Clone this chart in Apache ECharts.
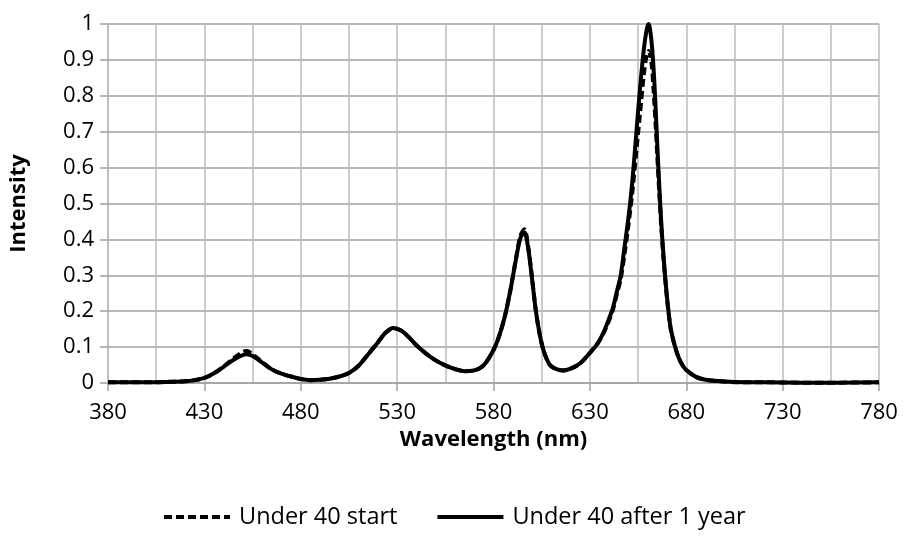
<!DOCTYPE html>
<html>
<head>
<meta charset="utf-8">
<script src="https://cdn.jsdelivr.net/npm/echarts@6/dist/echarts.min.js"></script>
<style>
  html, body { margin: 0; padding: 0; background: #fff; }
  #chart { width: 903px; height: 540px; }
</style>
</head>
<body>
<div id="chart"></div>
<script>
// wavelength (nm) sample points
const wavelengths = [380, 390, 400, 410, 420, 425, 430, 435, 440, 445,
  450, 452, 455, 460, 465, 470, 475, 480, 485, 490,
  495, 500, 505, 510, 515, 520, 524, 528, 532, 536,
  540, 545, 550, 555, 560, 565, 570, 575, 580, 583,
  586, 589, 592, 594, 596, 598, 600, 602, 604, 606,
  609, 612, 616, 620, 625, 630, 634, 637, 640, 642,
  644, 646, 648, 650, 652, 654, 656, 658, 659.5, 660.5,
  662, 663, 664, 665, 666, 667, 668, 669, 670, 671,
  672, 674, 676, 678, 680, 685, 690, 700, 710, 720,
  740, 760, 780];

// Under 40 start (dashed)
const startValues = [0.002, 0.002, 0.002, 0.003, 0.005, 0.008, 0.014, 0.027, 0.046, 0.068,
  0.087, 0.089, 0.080, 0.058, 0.038, 0.026, 0.018, 0.011, 0.008, 0.009,
  0.012, 0.018, 0.028, 0.048, 0.080, 0.113, 0.140, 0.153, 0.146, 0.128,
  0.105, 0.082, 0.063, 0.049, 0.039, 0.033, 0.035, 0.050, 0.092, 0.132,
  0.188, 0.265, 0.357, 0.410, 0.428, 0.380, 0.292, 0.200, 0.135, 0.090,
  0.052, 0.040, 0.035, 0.040, 0.055, 0.084, 0.110, 0.138, 0.175, 0.205,
  0.248, 0.290, 0.360, 0.440, 0.530, 0.640, 0.750, 0.860, 0.915, 0.925,
  0.890, 0.820, 0.730, 0.630, 0.530, 0.440, 0.360, 0.295, 0.235, 0.188,
  0.148, 0.104, 0.071, 0.050, 0.036, 0.017, 0.009, 0.004, 0.002, 0.002,
  0.001, 0.001, 0.002];

// Under 40 after 1 year (solid)
const yearValues = [0.002, 0.002, 0.002, 0.003, 0.005, 0.008, 0.014, 0.027, 0.045, 0.064,
  0.078, 0.080, 0.075, 0.057, 0.038, 0.026, 0.018, 0.011, 0.008, 0.009,
  0.012, 0.018, 0.028, 0.048, 0.080, 0.113, 0.140, 0.153, 0.146, 0.128,
  0.105, 0.082, 0.063, 0.049, 0.039, 0.033, 0.035, 0.050, 0.092, 0.132,
  0.188, 0.265, 0.355, 0.405, 0.420, 0.375, 0.290, 0.200, 0.135, 0.090,
  0.052, 0.040, 0.035, 0.040, 0.055, 0.084, 0.110, 0.140, 0.180, 0.210,
  0.255, 0.300, 0.380, 0.460, 0.560, 0.690, 0.820, 0.930, 0.985, 1.000,
  0.950, 0.880, 0.780, 0.660, 0.550, 0.450, 0.370, 0.300, 0.240, 0.190,
  0.150, 0.105, 0.072, 0.050, 0.036, 0.017, 0.009, 0.004, 0.002, 0.002,
  0.001, 0.001, 0.002];

const seriesNames = ['Under 40 start', 'Under 40 after 1 year'];

const FONT = '"Open Sans", "Noto Sans", sans-serif';

const chart = echarts.init(document.getElementById('chart'));
chart.setOption({
  animation: false,
  textStyle: { fontFamily: FONT },
  grid: { left: 101, right: 24, top: 24, bottom: 157 },
  legend: {
    data: seriesNames,
    left: 157,
    top: 500,
    itemWidth: 66,
    itemHeight: 14,
    itemGap: 38,
    itemStyle: { opacity: 0 },
    lineStyle: { width: 4 },
    textStyle: { fontFamily: FONT, fontSize: 23.5, color: '#000', padding: [0, 0, 0, 4] },
  },
  xAxis: {
    type: 'value',
    min: 380,
    max: 780,
    interval: 50,
    name: 'Wavelength (nm)',
    nameLocation: 'middle',
    nameGap: 44,
    nameTextStyle: { fontFamily: FONT, fontSize: 22, fontWeight: 'bold', color: '#000' },
    axisLine: { show: true, lineStyle: { color: '#a0a0a0', width: 1.5 } },
    axisTick: { show: true, length: 8, lineStyle: { color: '#a0a0a0', width: 1.5 } },
    axisLabel: { fontFamily: FONT, fontSize: 22, color: '#000', margin: 19 },
    splitLine: { show: true, lineStyle: { color: '#bdbdbd', width: 1.5 } },
    minorTick: { show: false, splitNumber: 2 },
    minorSplitLine: { show: true, lineStyle: { color: '#bdbdbd', width: 1.5 } },
  },
  yAxis: {
    type: 'value',
    min: 0,
    max: 1,
    interval: 0.1,
    name: 'Intensity',
    nameLocation: 'middle',
    nameGap: 78,
    nameTextStyle: { fontFamily: FONT, fontSize: 22, fontWeight: 'bold', color: '#000' },
    axisLine: { show: true, lineStyle: { color: '#bdbdbd', width: 1.5 } },
    axisTick: { show: true, length: 8, lineStyle: { color: '#a0a0a0', width: 1.5 } },
    axisLabel: { fontFamily: FONT, fontSize: 22, color: '#000', margin: 14 },
    splitLine: { show: true, lineStyle: { color: '#a0a0a0', width: 1.5 } },
  },
  series: [
    {
      name: seriesNames[0],
      type: 'line',
      symbol: 'none',
      smooth: 0.3,
      lineStyle: { color: '#000', width: 4, type: [8, 4] },
      itemStyle: { color: '#000' },
      data: wavelengths.map((w, i) => [w, startValues[i]]),
    },
    {
      name: seriesNames[1],
      type: 'line',
      symbol: 'none',
      smooth: 0.3,
      lineStyle: { color: '#000', width: 4 },
      itemStyle: { color: '#000' },
      data: wavelengths.map((w, i) => [w, yearValues[i]]),
    },
  ],
});
</script>
</body>
</html>
